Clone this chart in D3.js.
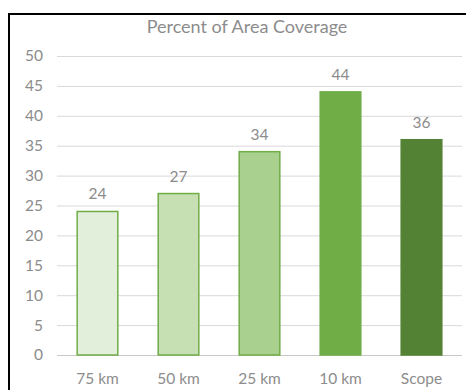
<!DOCTYPE html>
<html>
<head>
<meta charset="utf-8">
<script src="https://cdn.jsdelivr.net/npm/d3@7"></script>
<style>
  html, body { margin: 0; padding: 0; background: #fff; }
  svg { display: block; }
  text { font-family: Lato, "Open Sans", "Liberation Sans", sans-serif; fill: #8c8c8c; }
</style>
</head>
<body>
<svg id="chart" width="466" height="390"></svg>
<script>
// Coverage by search radius
const categories = ["75 km", "50 km", "25 km", "10 km", "Scope"];
const coverage = [24, 27, 34, 44, 36];
const yTicks = [0, 5, 10, 15, 20, 25, 30, 35, 40, 45, 50];
const fills = ["#e2efda", "#c6e0b4", "#a9d08e", "#70ad47", "#548235"];
const strokes = ["#70ad47", "#70ad47", "#70ad47", "#70ad47", "#548235"];
const title = "Percent of Area Coverage";

const svg = d3.select("#chart");
const W = 466, H = 390;
const margin = { left: 57, right: 4, top: 56, bottom: 35 };

// outer frame (left and top edges visible)
svg.append("path")
  .attr("d", `M9,${H} V14 H${W}`)
  .attr("fill", "none")
  .attr("stroke", "#000")
  .attr("stroke-width", 2);

const x = d3.scaleBand()
  .domain(categories)
  .range([margin.left, W - margin.right])
  .paddingInner(0.48)
  .paddingOuter(0.24);

const y = d3.scaleLinear()
  .domain([0, 50])
  .range([H - margin.bottom, margin.top]);

// gridlines and y labels
const yAxis = d3.axisLeft(y)
  .tickValues(yTicks)
  .tickSize(-(W - margin.right - margin.left))
  .tickPadding(14);

const gy = svg.append("g")
  .attr("transform", `translate(${margin.left},0)`)
  .call(yAxis);
gy.select(".domain").remove();
gy.selectAll(".tick line")
  .attr("stroke", d => d === 0 ? "#c8c8c8" : "#d9d9d9")
  .attr("stroke-width", 1);
gy.selectAll(".tick text")
  .attr("font-size", 15.5)
  .style("font-family", "Lato, 'Open Sans', sans-serif")
  .attr("fill", "#8c8c8c");

// bars
svg.append("g").selectAll("rect")
  .data(coverage)
  .join("rect")
  .attr("x", (d, i) => x(categories[i]) + 0.75)
  .attr("width", x.bandwidth() - 1.5)
  .attr("y", d => y(d))
  .attr("height", d => y(0) - y(d))
  .attr("fill", (d, i) => fills[i])
  .attr("stroke", (d, i) => strokes[i])
  .attr("stroke-width", 1.5);

// value labels
svg.append("g").selectAll("text")
  .data(coverage)
  .join("text")
  .attr("x", (d, i) => x(categories[i]) + x.bandwidth() / 2)
  .attr("y", d => y(d) - 12)
  .attr("text-anchor", "middle")
  .attr("font-size", 15.5)
  .text(d => d);

// x labels
const gx = svg.append("g")
  .attr("transform", `translate(0,${H - margin.bottom})`)
  .call(d3.axisBottom(x).tickSize(0).tickPadding(18));
gx.select(".domain").remove();
gx.selectAll(".tick text")
  .attr("font-size", 15.5)
  .style("font-family", "Lato, 'Open Sans', sans-serif")
  .attr("fill", "#8c8c8c");

// title
svg.append("text")
  .attr("x", 247)
  .attr("y", 33)
  .attr("text-anchor", "middle")
  .attr("font-size", 18)
  .attr("fill", "#9a9a9a")
  .text(title);
</script>
</body>
</html>
